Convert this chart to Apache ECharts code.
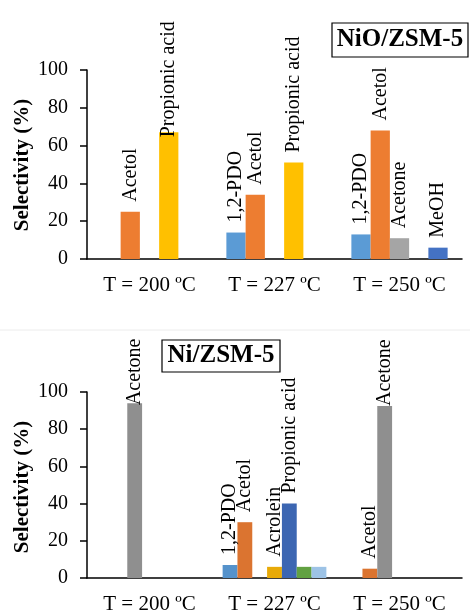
<!DOCTYPE html>
<html>
<head>
<meta charset="utf-8">
<script src="https://cdn.jsdelivr.net/npm/echarts@6/dist/echarts.min.js"></script>
<style>
html,body{margin:0;padding:0;background:#fff;}
#chart{width:470px;height:615px;}
</style>
</head>
<body>
<div id="chart"></div>
<script>
// ---------- data ----------
const categories = ['T = 200 ºC', 'T = 227 ºC', 'T = 250 ºC'];
const yMin = 0, yMax = 100, yStep = 20;

// Top panel: NiO/ZSM-5
const topTitle = 'NiO/ZSM-5';
const topNames = ['1,2-PDO', 'Acetol', 'Acetone', 'Propionic acid', 'MeOH'];
const topPDO = [null, 14, 13];
const topAcetol = [25, 34, 68];
const topAcetone = [null, null, 11];
const topPropionic = [67, 51, null];
const topMeOH = [null, null, 6];

// Bottom panel: Ni/ZSM-5
const botTitle = 'Ni/ZSM-5';
const botNames = ['1,2-PDO', 'Acetol', 'Acetone', 'Acrolein', 'Propionic acid', 'Series 6', 'Series 7'];
const botPDO = [null, 7, null];
const botAcetol = [null, 30, 5];
const botAcetone = [94, null, 92.5];
const botAcrolein = [null, 6, null];
const botPropionic = [null, 40, null];
const botS6 = [null, 6, null];
const botS7 = [null, 6, null];

const yName = 'Selectivity (%)';

// ---------- styles ----------
const FONT = '"Liberation Serif", "Times New Roman", serif';
const topColors = ['#5B9BD5', '#ED7D31', '#A5A5A5', '#FFC000', '#4472C4'];
const botColors = ['#5592CB', '#DB7430', '#8F8F8F', '#E8AA08', '#3C66B2', '#62A142', '#9DC3E6'];
const botShowLabel = [true, true, true, true, true, false, false];
// label distance tweaks (by series index -> category index)
const topLabelDist = {3: {0: -5}};
const botLabelDist = {2: {0: -2, 2: 0}};

const topValues = [topPDO, topAcetol, topAcetone, topPropionic, topMeOH];
const botValues = [botPDO, botAcetol, botAcetone, botAcrolein, botPropionic, botS6, botS7];

function labelCfg(show, dist) {
  return {
    show: show,
    position: 'top',
    rotate: 90,
    align: 'left',
    verticalAlign: 'middle',
    distance: dist,
    fontFamily: FONT,
    fontSize: 20,
    color: '#000',
    formatter: p => p.seriesName
  };
}

function buildSeries(names, values, colors, gridIdx, catGap, distMap, showArr) {
  return names.map((name, i) => ({
    type: 'bar',
    name: name,
    xAxisIndex: gridIdx,
    yAxisIndex: gridIdx,
    barGap: '0%',
    barCategoryGap: catGap,
    itemStyle: {color: colors[i]},
    label: labelCfg(showArr ? showArr[i] : true, 10),
    data: values[i].map((v, j) => {
      const item = {value: v};
      if (distMap[i] && distMap[i][j] !== undefined) {
        item.label = {distance: distMap[i][j]};
      }
      return item;
    })
  }));
}

function xAxisCfg(gridIdx) {
  return {
    type: 'category',
    gridIndex: gridIdx,
    data: categories,
    axisLine: {show: true, lineStyle: {color: '#000', width: 1.5}},
    axisTick: {show: false},
    axisLabel: {fontFamily: FONT, fontSize: 21, color: '#000', margin: 16, interval: 0, hideOverlap: false}
  };
}
function yAxisCfg(gridIdx) {
  return {
    type: 'value',
    gridIndex: gridIdx,
    min: yMin, max: yMax, interval: yStep,
    axisLine: {show: true, lineStyle: {color: '#000', width: 1.5}},
    axisTick: {show: true, length: 7, lineStyle: {color: '#000', width: 1.5}},
    splitLine: {show: false},
    axisLabel: {fontFamily: FONT, fontSize: 20, color: '#000', margin: 19}
  };
}

const chart = echarts.init(document.getElementById('chart'));
chart.setOption({
  backgroundColor: '#fff',
  animation: false,
  grid: [
    {left: 87, right: 8, top: 70, height: 189},
    {left: 87, right: 8, top: 392, height: 190}
  ],
  xAxis: [xAxisCfg(0), xAxisCfg(1)],
  yAxis: [yAxisCfg(0), yAxisCfg(1)],
  series: [
    ...buildSeries(topNames, topValues, topColors, 0, '23%', topLabelDist, null),
    ...buildSeries(botNames, botValues, botColors, 1, '17%', botLabelDist, botShowLabel)
  ],
  graphic: [
    {type: 'line', shape: {x1: 0, y1: 330, x2: 470, y2: 330}, style: {stroke: '#ececec', lineWidth: 1}, silent: true},
    {type: 'rect', shape: {x: 332, y: 23, width: 136, height: 34}, style: {fill: '#fff', stroke: '#000', lineWidth: 1.2}},
    {type: 'text', x: 400, y: 40, style: {text: topTitle, font: 'bold 25px ' + FONT, fill: '#000', textAlign: 'center', textVerticalAlign: 'middle'}},
    {type: 'rect', shape: {x: 162, y: 340, width: 118, height: 32}, style: {fill: '#fff', stroke: '#000', lineWidth: 1.2}},
    {type: 'text', x: 221, y: 356, style: {text: botTitle, font: 'bold 25px ' + FONT, fill: '#000', textAlign: 'center', textVerticalAlign: 'middle'}},
    {type: 'text', x: 23, y: 165, rotation: Math.PI / 2, style: {text: yName, font: 'bold 21px ' + FONT, fill: '#000', textAlign: 'center', textVerticalAlign: 'middle'}},
    {type: 'text', x: 23, y: 487, rotation: Math.PI / 2, style: {text: yName, font: 'bold 21px ' + FONT, fill: '#000', textAlign: 'center', textVerticalAlign: 'middle'}}
  ]
});
</script>
</body>
</html>
